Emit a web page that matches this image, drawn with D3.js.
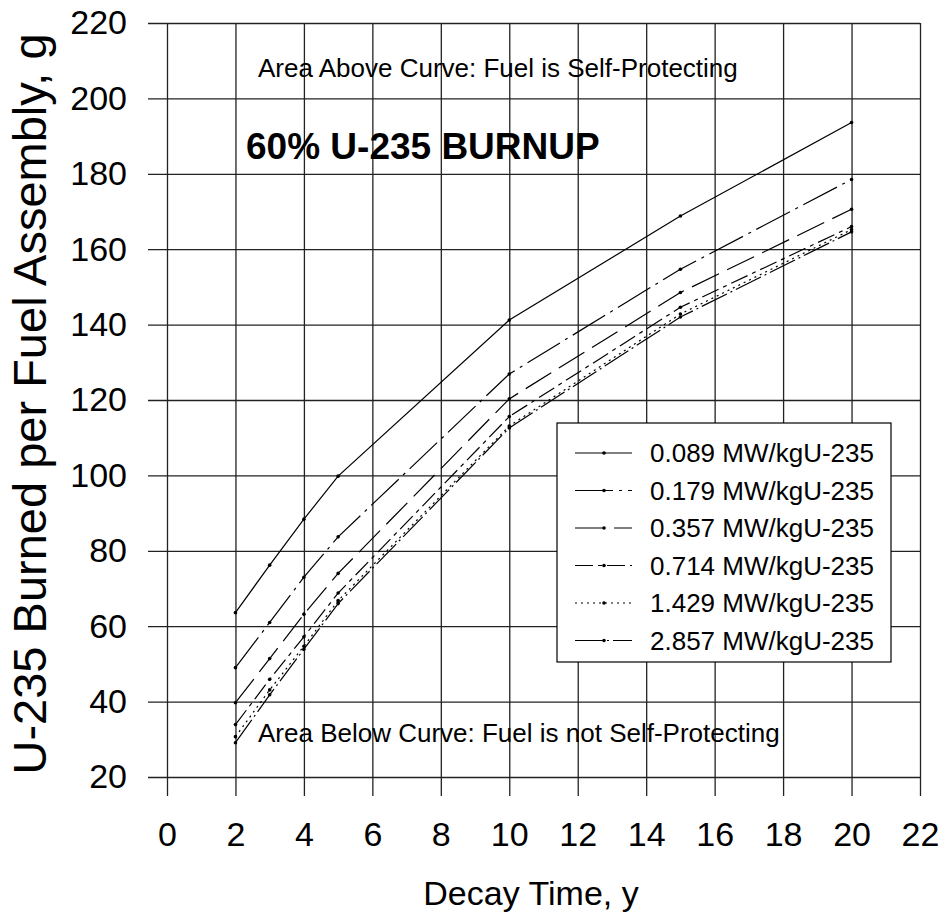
<!DOCTYPE html>
<html>
<head>
<meta charset="utf-8">
<script src="https://cdn.jsdelivr.net/npm/d3@7"></script>
<style>
  html, body { margin: 0; padding: 0; background: #fff; }
  svg { display: block; font-family: "Liberation Sans", Arial, sans-serif; }
</style>
</head>
<body>
<svg id="chart" width="946" height="920"></svg>
<script>
// ---- data ----
const decayYears = [2, 3, 4, 5, 10, 15, 20];
const seriesNames = [
  "0.089 MW/kgU-235",
  "0.179 MW/kgU-235",
  "0.357 MW/kgU-235",
  "0.714 MW/kgU-235",
  "1.429 MW/kgU-235",
  "2.857 MW/kgU-235"
];
const s0089 = [63.6, 76.2, 88.4, 99.8, 141.2, 168.8, 193.6];
const s0179 = [49.0, 61.0, 73.0, 83.7, 126.9, 154.7, 178.5];
const s0357 = [39.7, 51.4, 63.2, 74.0, 120.3, 148.5, 170.6];
const s0714 = [33.9, 45.9, 57.2, 68.8, 115.6, 144.6, 166.0];
const s1429 = [30.7, 43.1, 54.7, 66.8, 113.1, 142.8, 165.2];
const s2857 = [29.1, 41.8, 53.9, 66.0, 112.6, 142.0, 164.6];
const xTicks = [0, 2, 4, 6, 8, 10, 12, 14, 16, 18, 20, 22];
const yTicks = [20, 40, 60, 80, 100, 120, 140, 160, 180, 200, 220];

const seriesValues = [s0089, s0179, s0357, s0714, s1429, s2857];
const dashes = ["none", "38,6,3,6", "30,9", "18,5,4,5", "2,4", "28,4,2,4"];

(function () {
// ---- layout ----
const svg = d3.select("#chart");
const pLeft = 167, pRight = 920, pTop = 23, pBottom = 777;
const plotW = pRight - pLeft, plotH = pBottom - pTop;
const x = d3.scaleLinear().domain([0, 22]).range([pLeft, pRight]);
const y = d3.scaleLinear().domain([20, 220]).range([pBottom, pTop]);
const gridColor = "#222";

// y axis + horizontal grid
const gy = svg.append("g")
  .attr("transform", `translate(${pLeft},0)`)
  .call(d3.axisLeft(y).tickValues(yTicks).tickSize(19).tickPadding(21).tickFormat(d3.format("d")));
gy.select(".domain").remove();
gy.selectAll(".tick line").attr("x1", plotW).attr("stroke", gridColor).attr("stroke-width", 1.3);
gy.selectAll(".tick text").attr("font-size", 34).attr("fill", "#000")
  .attr("font-family", "Liberation Sans, Arial, sans-serif");

// x axis + vertical grid
const gx = svg.append("g")
  .attr("transform", `translate(0,${pBottom})`)
  .call(d3.axisBottom(x).tickValues(xTicks).tickSize(19).tickPadding(26).tickFormat(d3.format("d")));
gx.select(".domain").remove();
gx.selectAll(".tick line").attr("y1", -plotH).attr("stroke", gridColor).attr("stroke-width", 1.3);
gx.selectAll(".tick text").attr("font-size", 34).attr("fill", "#000")
  .attr("font-family", "Liberation Sans, Arial, sans-serif");

// axis titles
svg.append("text")
  .attr("x", 531).attr("y", 905)
  .attr("text-anchor", "middle")
  .attr("font-size", 34)
  .text("Decay Time, y");
svg.append("text")
  .attr("transform", "translate(46,404) rotate(-90)")
  .attr("text-anchor", "middle")
  .attr("font-size", 47)
  .text("U-235 Burned per Fuel Assembly, g");

// annotations
svg.append("text").attr("x", 258).attr("y", 77).attr("font-size", 26)
  .text("Area Above Curve: Fuel is Self-Protecting");
svg.append("text").attr("x", 246).attr("y", 159).attr("font-size", 37).attr("font-weight", "bold")
  .text("60% U-235 BURNUP");
svg.append("text").attr("x", 258).attr("y", 742).attr("font-size", 26)
  .text("Area Below Curve: Fuel is not Self-Protecting");

// lines
const line = d3.line().x((d, i) => x(decayYears[i])).y(d => y(d));
const series = seriesValues.map((vals, k) => ({ name: seriesNames[k], vals, dash: dashes[k] }));
const gs = svg.append("g").selectAll("g").data(series).join("g");
gs.append("path")
  .attr("d", d => line(d.vals))
  .attr("fill", "none")
  .attr("stroke", "#000")
  .attr("stroke-width", 1.2)
  .attr("stroke-dasharray", d => d.dash);
gs.selectAll("circle").data(d => d.vals).join("circle")
  .attr("cx", (d, i) => x(decayYears[i]))
  .attr("cy", d => y(d))
  .attr("r", 1.8)
  .attr("fill", "#000");

// legend
const lg = svg.append("g");
lg.append("rect").attr("x", 557).attr("y", 423).attr("width", 334).attr("height", 239)
  .attr("fill", "#fff").attr("stroke", "#000").attr("stroke-width", 1.2);
const rows = lg.selectAll("g.row").data(series).join("g")
  .attr("class", "row")
  .attr("transform", (d, i) => `translate(0,${453 + i * 37.5})`);
rows.append("line").attr("x1", 575).attr("x2", 632).attr("y1", 0).attr("y2", 0)
  .attr("stroke", "#000").attr("stroke-width", 1.2)
  .attr("stroke-dasharray", d => d.dash);
rows.append("circle").attr("cx", 604).attr("cy", 0).attr("r", 1.8).attr("fill", "#000");
rows.append("text").attr("x", 650).attr("y", 0).attr("dy", "0.35em")
  .attr("font-size", 26).text(d => d.name);
})();
</script>
</body>
</html>
